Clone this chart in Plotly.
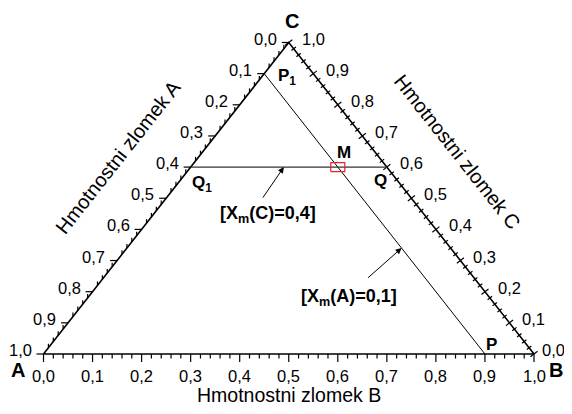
import numpy as np
import plotly.graph_objects as go

# ---------------- data ----------------
tick_values = [0.0, 0.1, 0.2, 0.3, 0.4, 0.5, 0.6, 0.7, 0.8, 0.9, 1.0]
tick_labels = ["0,0", "0,1", "0,2", "0,3", "0,4", "0,5", "0,6", "0,7", "0,8", "0,9", "1,0"]
minor_values = [round(i * 0.02, 2) for i in range(51)]

vertex_names = ["A", "B", "C"]
axis_titles = ["Hmotnostni zlomek A", "Hmotnostni zlomek B", "Hmotnostni zlomek C"]

# composition points (A, B, C) mass fractions
point_names = ["P<sub>1</sub>", "P", "Q<sub>1</sub>", "Q", "M"]
point_A = [0.1, 0.1, 0.4, 0.0, 0.1]
point_B = [0.0, 0.9, 0.0, 0.4, 0.3]
point_C = [0.9, 0.0, 0.6, 0.6, 0.6]

line_labels = ["[X<sub>m</sub>(C)=0,4]", "[X<sub>m</sub>(A)=0,1]"]

# ---------------- geometry / scales ----------------
OFF = 8.0                      # page body margin
W, H = 572 - OFF, 414 - 2 * OFF
X0PX, X1PX = 43.5 - OFF, 534.0 - OFF    # pixel x of A and B vertices
Y0PX, Y1PX = 354.0 - OFF, 42.5 - OFF    # pixel y of base and C apex
SX = X1PX - X0PX
SY = Y0PX - Y1PX
xrange_ = [-X0PX / SX, (W - X0PX) / SX]
yrange_ = [-(H - Y0PX) / SY, Y0PX / SY]


def to_xy(a, b, c):
    return b + c / 2.0, c


def dx(px):
    return px / SX


def dy(px):
    return px / SY


font = "Liberation Sans, Arial, sans-serif"
fig = go.Figure()

# triangle
tri = [to_xy(1, 0, 0), to_xy(0, 1, 0), to_xy(0, 0, 1), to_xy(1, 0, 0)]
fig.add_trace(go.Scatter(x=[p[0] for p in tri], y=[p[1] for p in tri], mode="lines",
                         line=dict(color="black", width=1.6), hoverinfo="skip", showlegend=False))

# ticks
tx, ty = [], []
majors = set(round(v, 2) for v in tick_values)
nx, ny = 0.786, 0.618  # perpendicular to right edge (screen up-right)
for v in minor_values:
    major = round(v, 2) in majors
    # bottom axis (B)
    x, y = to_xy(1 - v, v, 0)
    L = 8 if major else 4.5
    tx += [x, x, None]
    ty += [y, y - dy(L), None]
    # left axis (A)
    x, y = to_xy(v, 0, 1 - v)
    if major:
        tx += [x, x - dx(7), None]
        ty += [y, y, None]
    else:
        tx += [x, x, None]
        ty += [y, y + dy(4), None]
    # right axis (C)
    x, y = to_xy(0, 1 - v, v)
    a, b = (4.5, 4.5) if major else (2.8, 2.8)
    tx += [x - nx * dx(a), x + nx * dx(b), None]
    ty += [y - ny * dy(a), y + ny * dy(b), None]
fig.add_trace(go.Scatter(x=tx, y=ty, mode="lines", line=dict(color="black", width=1.2),
                         hoverinfo="skip", showlegend=False))

# construction lines
pts = [to_xy(a, b, c) for a, b, c in zip(point_A, point_B, point_C)]
fig.add_trace(go.Scatter(x=[pts[0][0], pts[1][0]], y=[pts[0][1], pts[1][1]], mode="lines",
                         line=dict(color="black", width=1), hoverinfo="skip", showlegend=False))
fig.add_trace(go.Scatter(x=[pts[2][0], pts[3][0]], y=[pts[2][1], pts[3][1]], mode="lines",
                         line=dict(color="#333333", width=1.3), hoverinfo="skip", showlegend=False))

# red rectangle around M
mx, my = pts[4]
rw, rh = dx(7), dy(4.5)
fig.add_trace(go.Scatter(x=[mx - rw, mx + rw, mx + rw, mx - rw, mx - rw],
                         y=[my - rh, my - rh, my + rh, my + rh, my - rh], mode="lines",
                         line=dict(color="#e8202a", width=1.2), hoverinfo="skip", showlegend=False))

ann = []


def label(x, y, text, xs=0, ys=0, size=15, xa="center", ya="middle", bold=False, angle=0):
    t = "<b>" + text + "</b>" if bold else text
    ann.append(dict(x=x, y=y, xref="x", yref="y", text=t, showarrow=False, xshift=xs, yshift=ys,
                    xanchor=xa, yanchor=ya, textangle=angle,
                    font=dict(family=font, size=size, color="black")))


TS = 16.5
# tick labels
for v, t in zip(tick_values, tick_labels):
    x, y = to_xy(1 - v, v, 0)
    label(x, y, t, ys=-22, size=TS)
    x, y = to_xy(v, 0, 1 - v)
    label(x, y, t, xs=-10, ys=4, xa="right", size=TS)
for v, t in zip(tick_values, tick_labels):
    x, y = to_xy(0, 1 - v, v)
    label(x, y, t, xs=(6 if v == 0 else 11), ys=4, xa="left", size=TS)

# vertex names
vx = [to_xy(1, 0, 0), to_xy(0, 1, 0), to_xy(0, 0, 1)]
label(vx[0][0], vx[0][1], vertex_names[0], xs=-26, ys=-16, size=20, bold=True)
label(vx[1][0], vx[1][1], vertex_names[1], xs=22, ys=-16, size=20, bold=True)
label(vx[2][0], vx[2][1], vertex_names[2], xs=3, ys=22, size=20, bold=True)

# axis titles
ang = np.degrees(np.arctan2(SY, SX / 2))
lm = to_xy(0.5, 0, 0.5)
label(lm[0], lm[1], axis_titles[0], xs=-48, ys=41, size=20, angle=-ang)
label(0.5, 0, axis_titles[1], ys=-41, size=19.5)
rm = to_xy(0, 0.5, 0.5)
label(rm[0], rm[1], axis_titles[2], xs=46, ys=46, size=20, angle=ang)

# point labels
PS = 17
label(pts[0][0], pts[0][1], point_names[0], xs=12, ys=-3, xa="left", size=PS, bold=True)
label(pts[1][0], pts[1][1], point_names[1], xs=7, ys=10, size=PS, bold=True)
label(pts[2][0], pts[2][1], point_names[2], xs=-1, ys=-17, xa="left", size=PS, bold=True)
label(pts[3][0], pts[3][1], point_names[3], xs=-6, ys=-13, size=PS, bold=True)
label(pts[4][0], pts[4][1], point_names[4], xs=6, ys=15, size=PS, bold=True)

# line labels with arrows
tip1 = to_xy(0.4 - 0.19 + 0.0, 0.19, 0.6)
ann.append(dict(x=tip1[0], y=tip1[1], xref="x", yref="y", ax=-22, ay=32, text="",
                showarrow=True, arrowhead=2, arrowsize=1.2, arrowwidth=1, arrowcolor="black"))
label(tip1[0], tip1[1], line_labels[0], xs=-16, ys=-47, size=18, bold=True)

c2 = 0.34
tip2 = to_xy(0.1, 0.9 - c2, c2)
ann.append(dict(x=tip2[0], y=tip2[1], xref="x", yref="y", ax=-35, ay=31, text="",
                showarrow=True, arrowhead=2, arrowsize=1.2, arrowwidth=1, arrowcolor="black"))
label(tip2[0], tip2[1], line_labels[1], xs=-53, ys=-49, size=18, bold=True)

fig.update_layout(
    width=W, height=H, autosize=False,
    margin=dict(l=0, r=0, t=0, b=0),
    paper_bgcolor="white", plot_bgcolor="white",
    xaxis=dict(range=xrange_, visible=False, fixedrange=True),
    yaxis=dict(range=yrange_, visible=False, fixedrange=True),
    annotations=ann, showlegend=False,
)
fig.write_html("out.html")
